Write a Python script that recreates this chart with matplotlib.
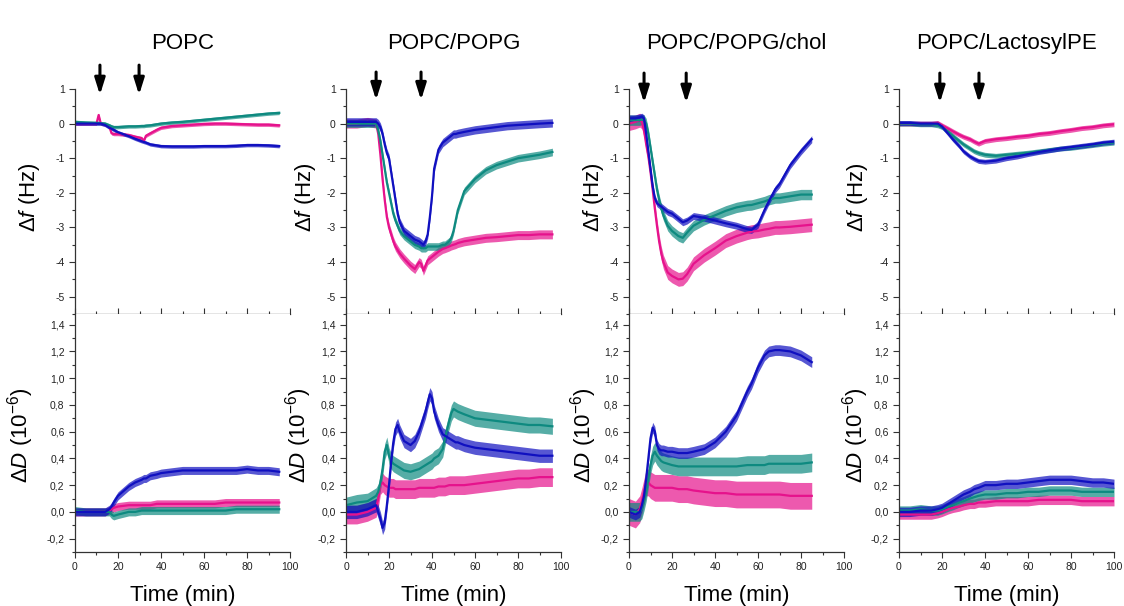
import numpy as np
import matplotlib
matplotlib.use('Agg')
import matplotlib.pyplot as plt
from matplotlib import ticker

plt.rcParams['font.family'] = 'Liberation Sans'
plt.rcParams['mathtext.fontset'] = 'custom'
plt.rcParams['mathtext.rm'] = 'Liberation Sans'
plt.rcParams['mathtext.it'] = 'Liberation Sans:italic'

# Panel titles and injection times (arrows, min)
titles = ['POPC', 'POPC/POPG', 'POPC/POPG/chol', 'POPC/LactosylPE']
arrow_times = [[11.6, 29.8], [14.0, 34.9], [7.0, 26.6], [19.0, 37.2]]

# ---- POPC ----
t_popc = [0, 5, 10, 11, 12, 14, 16, 17, 18, 20, 25, 28, 31, 32, 33, 35, 38, 40, 45, 50,
          55, 60, 65, 70, 75, 80, 85, 90, 95]
f_popc_pink = [0, 0, 0, 0.25, 0, -0.02, -0.1, -0.28, -0.3, -0.3, -0.33, -0.38, -0.42, -0.5, -0.35,
               -0.28, -0.18, -0.12, -0.07, -0.05, -0.03, -0.01, 0, 0, -0.01, -0.02, -0.03, -0.03, -0.05]
f_popc_teal = [0.05, 0.03, 0.02, 0.02, 0.01, 0.0, -0.05, -0.08, -0.1, -0.1, -0.08, -0.08, -0.07,
               -0.07, -0.06, -0.05, -0.02, 0.0, 0.03, 0.05, 0.08, 0.11, 0.14, 0.17, 0.2, 0.23, 0.26, 0.29, 0.31]
f_popc_blue = [0, 0, 0, 0, 0, -0.04, -0.12, -0.15, -0.18, -0.25, -0.36, -0.44, -0.51, -0.53, -0.55,
               -0.6, -0.63, -0.65, -0.66, -0.66, -0.66, -0.65, -0.65, -0.65, -0.64, -0.62, -0.62, -0.63, -0.65]
d_popc_pink = [0, 0, 0, 0, 0, 0, 0.01, 0.02, 0.03, 0.04, 0.05, 0.05, 0.05, 0.05, 0.05, 0.05, 0.06,
               0.06, 0.06, 0.06, 0.06, 0.06, 0.06, 0.07, 0.07, 0.07, 0.07, 0.07, 0.07]
d_popc_teal = [0.01, 0.0, 0.0, 0.0, 0.0, 0.0, 0.0, -0.02, -0.03, -0.02, 0.0, 0.0, 0.01, 0.01, 0.01,
               0.01, 0.01, 0.01, 0.01, 0.01, 0.01, 0.01, 0.01, 0.01, 0.02, 0.02, 0.02, 0.02, 0.02]
d_popc_blue = [0, 0, 0, 0, 0, 0, 0.02, 0.04, 0.07, 0.12, 0.19, 0.22, 0.24, 0.25, 0.25, 0.27, 0.28,
               0.29, 0.3, 0.31, 0.31, 0.31, 0.31, 0.31, 0.31, 0.32, 0.31, 0.31, 0.3]

# ---- POPC/POPG ----
t_pg = [0, 5, 10, 14, 15, 16, 17, 18, 19, 20, 21, 22, 23, 24, 25, 27, 30, 32, 34, 35, 36, 37, 38,
        39, 40, 41, 43, 45, 46, 48, 49, 50, 51, 52, 55, 60, 65, 70, 75, 80, 85, 90, 96]
f_pg_pink = [0.0, 0.0, 0.05, 0.0, -0.3, -0.9, -1.6, -2.2, -2.7, -3.0, -3.2, -3.4, -3.55, -3.65,
             -3.75, -3.9, -4.1, -4.2, -4.0, -4.05, -4.25, -4.1, -3.95, -3.9, -3.85, -3.8, -3.7, -3.62,
             -3.6, -3.55, -3.52, -3.5, -3.48, -3.45, -3.4, -3.35, -3.3, -3.28, -3.25, -3.22, -3.22, -3.2, -3.2]
f_pg_teal = [0.0, 0.0, 0.0, 0.0, -0.2, -0.5, -0.9, -1.3, -1.7, -2.0, -2.3, -2.6, -2.8, -2.95, -3.1,
             -3.25, -3.4, -3.5, -3.55, -3.6, -3.6, -3.6, -3.55, -3.55, -3.55, -3.55, -3.55, -3.5, -3.5,
             -3.4, -3.3, -3.1, -2.8, -2.5, -1.95, -1.6, -1.35, -1.2, -1.1, -1.0, -0.95, -0.9, -0.82]
f_pg_blue = [0.05, 0.05, 0.05, 0.05, 0.0, -0.1, -0.3, -0.6, -0.85, -1.0, -1.4, -1.8, -2.2, -2.6,
             -2.85, -3.1, -3.25, -3.35, -3.4, -3.45, -3.5, -3.4, -3.2, -2.7, -2.1, -1.3, -0.75, -0.55,
             -0.5, -0.4, -0.35, -0.3, -0.3, -0.28, -0.24, -0.18, -0.14, -0.1, -0.06, -0.04, -0.02, 0.0, 0.02]
d_pg_pink = [-0.02, -0.02, 0.0, 0.03, 0.1, 0.2, 0.22, 0.2, 0.19, 0.18, 0.18, 0.18, 0.17, 0.17, 0.17,
             0.17, 0.17, 0.17, 0.18, 0.18, 0.18, 0.18, 0.18, 0.18, 0.18, 0.18, 0.19, 0.19, 0.19, 0.2,
             0.2, 0.2, 0.2, 0.2, 0.2, 0.21, 0.22, 0.23, 0.24, 0.25, 0.25, 0.26, 0.26]
d_pg_teal = [0.05, 0.07, 0.08, 0.12, 0.15, 0.22, 0.32, 0.45, 0.5, 0.42, 0.38, 0.36, 0.35, 0.34, 0.33,
             0.31, 0.3, 0.31, 0.32, 0.33, 0.34, 0.35, 0.36, 0.37, 0.38, 0.4, 0.42, 0.47, 0.55, 0.68,
             0.74, 0.77, 0.76, 0.75, 0.73, 0.7, 0.69, 0.68, 0.67, 0.66, 0.65, 0.65, 0.64]
d_pg_blue = [0.0, 0.0, 0.02, 0.05, 0.0, -0.05, -0.12, -0.08, 0.05, 0.2, 0.38, 0.52, 0.62, 0.65, 0.6,
             0.53, 0.5, 0.53, 0.6, 0.65, 0.7, 0.75, 0.82, 0.88, 0.85, 0.75, 0.65, 0.58, 0.57, 0.55,
             0.54, 0.53, 0.52, 0.52, 0.5, 0.48, 0.47, 0.46, 0.45, 0.44, 0.43, 0.42, 0.42]

# ---- POPC/POPG/chol ----
t_chol = [0, 3, 5, 6, 7, 8, 9, 10, 11, 12, 13, 14, 15, 16, 18, 20, 23, 25, 27, 30, 35, 40, 45, 50,
          55, 57, 60, 63, 65, 68, 70, 75, 80, 85]
f_chol_pink = [0.0, 0.05, 0.1, 0.05, -0.2, -0.6, -0.95, -1.4, -1.9, -2.45, -2.95, -3.4, -3.75, -4.0,
               -4.3, -4.4, -4.5, -4.48, -4.35, -4.05, -3.8, -3.6, -3.38, -3.25, -3.15, -3.12, -3.1,
               -3.06, -3.04, -3.0, -3.0, -2.98, -2.95, -2.92]
f_chol_teal = [0.1, 0.1, 0.1, 0.12, 0.1, 0.0, -0.3, -0.7, -1.1, -1.5, -1.9, -2.2, -2.45, -2.65, -2.95,
               -3.1, -3.25, -3.3, -3.15, -2.95, -2.78, -2.65, -2.52, -2.42, -2.36, -2.35, -2.3, -2.25,
               -2.2, -2.15, -2.15, -2.1, -2.05, -2.05]
f_chol_blue = [0.15, 0.15, 0.18, 0.2, 0.15, -0.3, -0.8, -1.3, -1.8, -2.15, -2.3, -2.35, -2.4, -2.45,
               -2.55, -2.6, -2.75, -2.85, -2.8, -2.67, -2.72, -2.8, -2.88, -2.95, -3.05, -3.07, -2.92,
               -2.5, -2.25, -1.9, -1.75, -1.2, -0.8, -0.45]
d_chol_pink = [0.0, -0.02, 0.02, 0.08, 0.15, 0.22, 0.22, 0.2, 0.19, 0.18, 0.18, 0.18, 0.18, 0.18,
               0.18, 0.18, 0.17, 0.17, 0.17, 0.16, 0.15, 0.14, 0.14, 0.13, 0.13, 0.13, 0.13, 0.13,
               0.13, 0.13, 0.13, 0.12, 0.12, 0.12]
d_chol_teal = [0.0, 0.0, 0.0, 0.02, 0.08, 0.15, 0.25, 0.35, 0.42, 0.45, 0.42, 0.4, 0.38, 0.37, 0.36,
               0.35, 0.34, 0.34, 0.34, 0.34, 0.34, 0.34, 0.34, 0.34, 0.35, 0.35, 0.35, 0.35, 0.36,
               0.36, 0.36, 0.36, 0.36, 0.37]
d_chol_blue = [0.0, -0.02, 0.0, 0.05, 0.12, 0.25, 0.4, 0.55, 0.63, 0.6, 0.5, 0.47, 0.46, 0.46, 0.45,
               0.45, 0.44, 0.44, 0.44, 0.45, 0.47, 0.52, 0.6, 0.72, 0.9, 0.96, 1.08, 1.17, 1.2, 1.21,
               1.21, 1.2, 1.17, 1.12]

# ---- POPC/LactosylPE ----
t_lac = [0, 5, 10, 15, 18, 20, 23, 25, 28, 30, 33, 35, 37, 40, 45, 50, 55, 60, 65, 70, 75, 80, 85,
         90, 95, 100]
f_lac_pink = [0.0, 0.0, 0.0, 0.0, 0.02, -0.05, -0.15, -0.22, -0.32, -0.38, -0.45, -0.52, -0.58,
              -0.5, -0.45, -0.42, -0.38, -0.35, -0.3, -0.27, -0.22, -0.18, -0.13, -0.1, -0.05, -0.02]
f_lac_teal = [0.0, 0.0, -0.02, -0.02, -0.05, -0.1, -0.25, -0.35, -0.5, -0.6, -0.72, -0.8, -0.85,
              -0.9, -0.93, -0.9, -0.87, -0.84, -0.8, -0.76, -0.72, -0.7, -0.66, -0.62, -0.58, -0.55]
f_lac_blue = [0.02, 0.02, 0.0, 0.0, 0.0, -0.08, -0.3, -0.45, -0.65, -0.8, -0.95, -1.02, -1.08,
              -1.1, -1.07, -1.0, -0.95, -0.88, -0.82, -0.77, -0.72, -0.68, -0.64, -0.6, -0.55, -0.52]
d_lac_pink = [-0.02, -0.02, -0.02, -0.02, -0.01, 0.0, 0.02, 0.03, 0.04, 0.05, 0.06, 0.06, 0.07,
              0.07, 0.08, 0.08, 0.08, 0.08, 0.09, 0.09, 0.09, 0.09, 0.08, 0.08, 0.08, 0.08]
d_lac_teal = [0.01, 0.01, 0.02, 0.01, 0.01, 0.02, 0.04, 0.05, 0.07, 0.08, 0.1, 0.11, 0.12, 0.13,
              0.13, 0.14, 0.14, 0.15, 0.15, 0.16, 0.16, 0.16, 0.15, 0.15, 0.15, 0.15]
d_lac_blue = [0.0, 0.0, 0.01, 0.01, 0.02, 0.03, 0.06, 0.08, 0.11, 0.13, 0.15, 0.17, 0.18, 0.2, 0.2,
              0.21, 0.21, 0.22, 0.23, 0.24, 0.24, 0.24, 0.23, 0.22, 0.22, 0.21]

# noise half-width of each trace, order pink, teal, blue
f_noise = [[0.05, 0.05, 0.05], [0.13, 0.11, 0.12], [0.2, 0.15, 0.1], [0.07, 0.07, 0.07]]
d_noise = [[0.03, 0.03, 0.03], [0.07, 0.06, 0.05], [0.1, 0.07, 0.04], [0.035, 0.035, 0.035]]

times = [t_popc, t_pg, t_chol, t_lac]
f_data = [[f_popc_pink, f_popc_teal, f_popc_blue], [f_pg_pink, f_pg_teal, f_pg_blue],
          [f_chol_pink, f_chol_teal, f_chol_blue], [f_lac_pink, f_lac_teal, f_lac_blue]]
d_data = [[d_popc_pink, d_popc_teal, d_popc_blue], [d_pg_pink, d_pg_teal, d_pg_blue],
          [d_chol_pink, d_chol_teal, d_chol_blue], [d_lac_pink, d_lac_teal, d_lac_blue]]

colors = ['#e6128c', '#0e8a80', '#1010c0']

W, H = 1124, 606
fig = plt.figure(figsize=(W/100, H/100), dpi=100)
lefts = [75, 346, 629, 899]
pw = 215
flab_off = [45, 40, 36, 42]
dlab_off = [54, 47, 45, 43]
arrow_y = [(1.69, 0.83), (1.49, 0.68), (1.46, 0.6), (1.46, 0.6)]

def comma(v, pos):
    s = f'{v:.1f}'.replace('.', ',')
    return '0,0' if s == '-0,0' else s

def style(ax):
    for side in ['top', 'right']:
        ax.spines[side].set_visible(False)
    for side in ['left', 'bottom']:
        ax.spines[side].set_color('#333333')
        ax.spines[side].set_linewidth(0.9)
    ax.tick_params(which='both', labelsize=7.5, colors='#333333', labelcolor='#222222', width=0.8)
    ax.tick_params(which='major', length=4)
    ax.tick_params(which='minor', length=2.5)
    ax.set_xlim(0, 100)
    ax.xaxis.set_major_locator(ticker.MultipleLocator(20))
    ax.xaxis.set_minor_locator(ticker.MultipleLocator(10))

for i in range(4):
    x0 = lefts[i] / W
    axf = fig.add_axes([x0, 1 - 314/H, pw/W, 225/H])
    axd = fig.add_axes([x0, 1 - 552/H, pw/W, 238/H])
    t = np.array(times[i])
    for k in range(3):
        yf = np.array(f_data[i][k])
        axf.fill_between(t, yf - f_noise[i][k], yf + f_noise[i][k], color=colors[k], alpha=0.7, lw=0)
        axf.plot(t, yf, color=colors[k], lw=1.6)
        yd = np.array(d_data[i][k])
        axd.fill_between(t, yd - d_noise[i][k], yd + d_noise[i][k], color=colors[k], alpha=0.7, lw=0)
        axd.plot(t, yd, color=colors[k], lw=1.6)

    style(axf)
    axf.set_ylim(-5.5, 1)
    axf.yaxis.set_major_locator(ticker.MultipleLocator(1))
    axf.yaxis.set_minor_locator(ticker.MultipleLocator(0.5))
    axf.yaxis.set_major_formatter(ticker.FuncFormatter(lambda v, p: f'{v:.0f}'))
    axf.tick_params(axis='x', which='both', direction='in', labelbottom=False)
    axf.text(-flab_off[i]/pw, 0.52, r'$\Delta f$ (Hz)', transform=axf.transAxes, rotation=90,
             ha='center', va='center', fontsize=16)
    axf.text(0.5, 1.204, titles[i], transform=axf.transAxes, ha='center', va='center', fontsize=16)
    for ta in arrow_times[i]:
        axf.annotate('', xy=(ta, arrow_y[i][1]), xytext=(ta, arrow_y[i][0]), annotation_clip=False,
                     arrowprops=dict(arrowstyle='-|>,head_length=0.7,head_width=0.22', lw=2.2,
                                     color='k', shrinkA=0, shrinkB=0, mutation_scale=14))

    style(axd)
    axd.set_ylim(-0.3, 1.48)
    axd.yaxis.set_major_locator(ticker.MultipleLocator(0.2))
    axd.yaxis.set_minor_locator(ticker.MultipleLocator(0.1))
    axd.yaxis.set_major_formatter(ticker.FuncFormatter(comma))
    axd.xaxis.set_major_formatter(ticker.FuncFormatter(lambda v, p: f'{v:.0f}'))
    axd.text(-dlab_off[i]/pw, 0.49, r'$\Delta D$ (10$^{-6}$)', transform=axd.transAxes, rotation=90,
             ha='center', va='center', fontsize=16)
    axd.text(0.5, -43/238, 'Time (min)', transform=axd.transAxes, ha='center', va='center', fontsize=16)

fig.savefig('out.png', dpi=100)
